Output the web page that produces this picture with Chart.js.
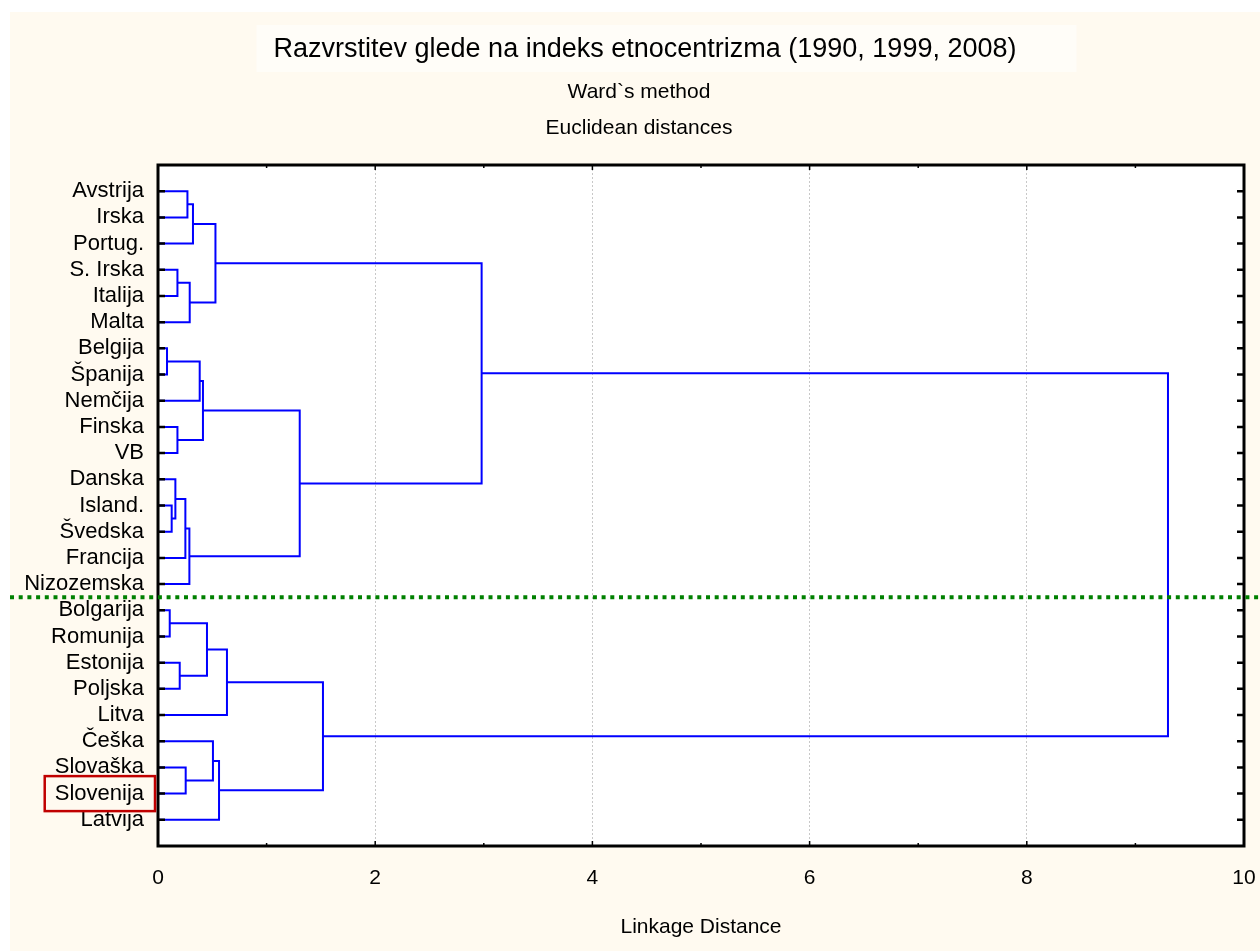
<!DOCTYPE html>
<html lang="sl">

<head>
    <meta charset="UTF-8">
    <title>Razvrstitev glede na indeks etnocentrizma</title>
    <script src="https://cdn.jsdelivr.net/npm/chart.js"></script>
    <style>
        html,
        body {
            margin: 0;
            padding: 0;
            background: #ffffff;
        }

        .chart-container {
            position: relative;
            width: 1260px;
            height: 951px;
        }
    </style>
</head>

<body>

    <div class="chart-container">
        <canvas id="myChart"></canvas>
    </div>

    <script>
        // leaves, top to bottom
        const leafLabels = ['Avstrija', 'Irska', 'Portug.', 'S. Irska', 'Italija', 'Malta', 'Belgija', 'Španija',
            'Nemčija', 'Finska', 'VB', 'Danska', 'Island.', 'Švedska', 'Francija', 'Nizozemska', 'Bolgarija',
            'Romunija', 'Estonija', 'Poljska', 'Litva', 'Češka', 'Slovaška', 'Slovenija', 'Latvija'];

        // merge steps: ids < 25 are leaves, id 25 + k is the cluster made in step k
        const mergeA = [6, 16, 12, 11, 3, 9, 18, 28, 22, 0, 32, 29, 34, 25, 38, 26, 21, 37, 41, 40, 39, 44, 42, 47];
        const mergeB = [7, 17, 13, 27, 4, 10, 19, 14, 23, 1, 15, 5, 2, 8, 30, 31, 33, 36, 24, 20, 35, 43, 45, 46];
        const mergeDist = [0.083, 0.108, 0.126, 0.160, 0.179, 0.179, 0.200, 0.252, 0.255, 0.271, 0.289, 0.292,
            0.322, 0.384, 0.414, 0.451, 0.506, 0.529, 0.562, 0.635, 1.305, 1.519, 2.98, 9.30];

        const xTicks = [0, 1, 2, 3, 4, 5, 6, 7, 8, 9, 10];
        const cutLevel = 15.5;          // dotted line between Nizozemska and Bolgarija
        const markedLeaf = 'Slovenija';

        const titleText = 'Razvrstitev glede na indeks etnocentrizma (1990, 1999, 2008)';
        const subtitleLines = ['Ward`s method', 'Euclidean distances'];
        const xTitle = 'Linkage Distance';

        const FONT = '"Liberation Sans", Arial, sans-serif';
        Chart.defaults.font.family = FONT;
        Chart.defaults.color = '#000000';

        // build the U shaped links from the merge list
        const pos = leafLabels.map((_, i) => i);
        const level = leafLabels.map(() => 0);
        const links = [];
        mergeA.forEach((a, k) => {
            const b = mergeB[k];
            const d = mergeDist[k];
            links.push([
                { x: level[a], y: pos[a] },
                { x: d, y: pos[a] },
                { x: d, y: pos[b] },
                { x: level[b], y: pos[b] }
            ]);
            pos.push((pos[a] + pos[b]) / 2);
            level.push(d);
        });

        const decor = {
            id: 'decor',
            beforeDraw(chart) {
                const { ctx, width, height, chartArea: a } = chart;
                ctx.save();
                ctx.fillStyle = '#ffffff';
                ctx.fillRect(0, 0, width, height);
                ctx.fillStyle = '#fffaf0';
                ctx.fillRect(10, 12, width - 10, height - 12);

                // titles
                const cx = 645;
                ctx.font = '27px ' + FONT;
                const tw = ctx.measureText(titleText).width;
                ctx.fillStyle = '#fffdf8';
                ctx.fillRect(cx - tw / 2 - 17, 25, tw + 77, 47);
                ctx.fillStyle = '#000000';
                ctx.textAlign = 'center';
                ctx.textBaseline = 'middle';
                ctx.fillText(titleText, cx, 50);
                ctx.font = '21px ' + FONT;
                subtitleLines.forEach((t, i) => ctx.fillText(t, 639, 92 + i * 36));

                ctx.fillStyle = '#ffffff';
                ctx.fillRect(a.left, a.top, a.right - a.left, a.bottom - a.top);
                ctx.restore();
            },
            afterDraw(chart) {
                const { ctx, width, chartArea: a } = chart;
                const xs = chart.scales.x;
                const ys = chart.scales.y;
                ctx.save();

                // frame
                ctx.strokeStyle = '#000000';
                ctx.lineWidth = 3;
                ctx.strokeRect(a.left, a.top, a.right - a.left, a.bottom - a.top);

                // inward leaf ticks, left and right
                ctx.lineWidth = 2.5;
                ctx.beginPath();
                leafLabels.forEach((_, i) => {
                    const py = ys.getPixelForValue(i);
                    ctx.moveTo(a.left, py);
                    ctx.lineTo(a.left + 7, py);
                    ctx.moveTo(a.right - 7, py);
                    ctx.lineTo(a.right, py);
                });
                ctx.stroke();

                // inward distance ticks, top and bottom
                ctx.lineWidth = 1.5;
                ctx.beginPath();
                xTicks.forEach(v => {
                    if (v === xTicks[0] || v === xTicks[xTicks.length - 1]) return;
                    const px = xs.getPixelForValue(v);
                    const len = v % 2 === 0 ? 5 : 3;
                    ctx.moveTo(px, a.top);
                    ctx.lineTo(px, a.top + len);
                    ctx.moveTo(px, a.bottom);
                    ctx.lineTo(px, a.bottom - len);
                });
                ctx.stroke();

                // cut line
                const cy = ys.getPixelForValue(cutLevel);
                ctx.strokeStyle = '#008000';
                ctx.lineWidth = 4;
                ctx.setLineDash([4, 4.7]);
                ctx.beginPath();
                ctx.moveTo(10, cy);
                ctx.lineTo(width, cy);
                ctx.stroke();
                ctx.setLineDash([]);

                // red box around the marked label
                const my = ys.getPixelForValue(leafLabels.indexOf(markedLeaf));
                ctx.font = '22px ' + FONT;
                const lw = ctx.measureText(markedLeaf).width;
                const right = a.left - 14;
                ctx.strokeStyle = '#c00000';
                ctx.lineWidth = 2.5;
                ctx.strokeRect(right - lw - 10, my - 17.5, lw + 21, 35);
                ctx.restore();
            }
        };

        const ctx = document.getElementById('myChart').getContext('2d');
        new Chart(ctx, {
            type: 'scatter',
            data: {
                datasets: links.map(pts => ({
                    data: pts,
                    showLine: true,
                    borderColor: '#0000ff',
                    borderWidth: 2,
                    pointRadius: 0,
                    pointHoverRadius: 0,
                    fill: false,
                    tension: 0
                }))
            },
            options: {
                responsive: true,
                maintainAspectRatio: false,
                animation: false,
                layout: { padding: { left: 0, right: 16, top: 165, bottom: 0 } },
                plugins: {
                    legend: { display: false },
                    tooltip: { enabled: false },
                    title: { display: false },
                    subtitle: { display: false }
                },
                scales: {
                    x: {
                        type: 'linear',
                        position: 'bottom',
                        min: 0,
                        max: 10,
                        afterBuildTicks: s => { s.ticks = xTicks.map(v => ({ value: v })); },
                        afterFit: s => {
                            s.height = 105;
                            s.paddingLeft = 0;
                            s.paddingRight = 0;
                        },
                        ticks: {
                            autoSkip: false,
                            maxRotation: 0,
                            padding: 20,
                            font: { size: 21 },
                            callback: v => (v % 2 === 0 ? String(v) : '')
                        },
                        grid: {
                            drawTicks: false,
                            lineWidth: 1,
                            color: c => (c.tick && c.tick.value % 2 === 0 && c.tick.value > 0 && c.tick.value < 10)
                                ? '#c8c8c8' : 'rgba(0,0,0,0)'
                        },
                        border: { display: false, dash: [2, 2] },
                        title: {
                            display: true,
                            text: xTitle,
                            font: { size: 21 },
                            padding: { top: 0, bottom: 11 }
                        }
                    },
                    y: {
                        type: 'linear',
                        min: -1,
                        max: 25,
                        reverse: true,
                        afterBuildTicks: s => { s.ticks = leafLabels.map((_, i) => ({ value: i })); },
                        afterFit: s => {
                            s.width = 158;
                            s.paddingTop = 0;
                            s.paddingBottom = 0;
                        },
                        ticks: {
                            autoSkip: false,
                            padding: 14,
                            font: { size: 22 },
                            callback: v => leafLabels[v] ?? ''
                        },
                        grid: { display: false, drawTicks: false },
                        border: { display: false }
                    }
                }
            },
            plugins: [decor]
        });
    </script>

</body>

</html>
